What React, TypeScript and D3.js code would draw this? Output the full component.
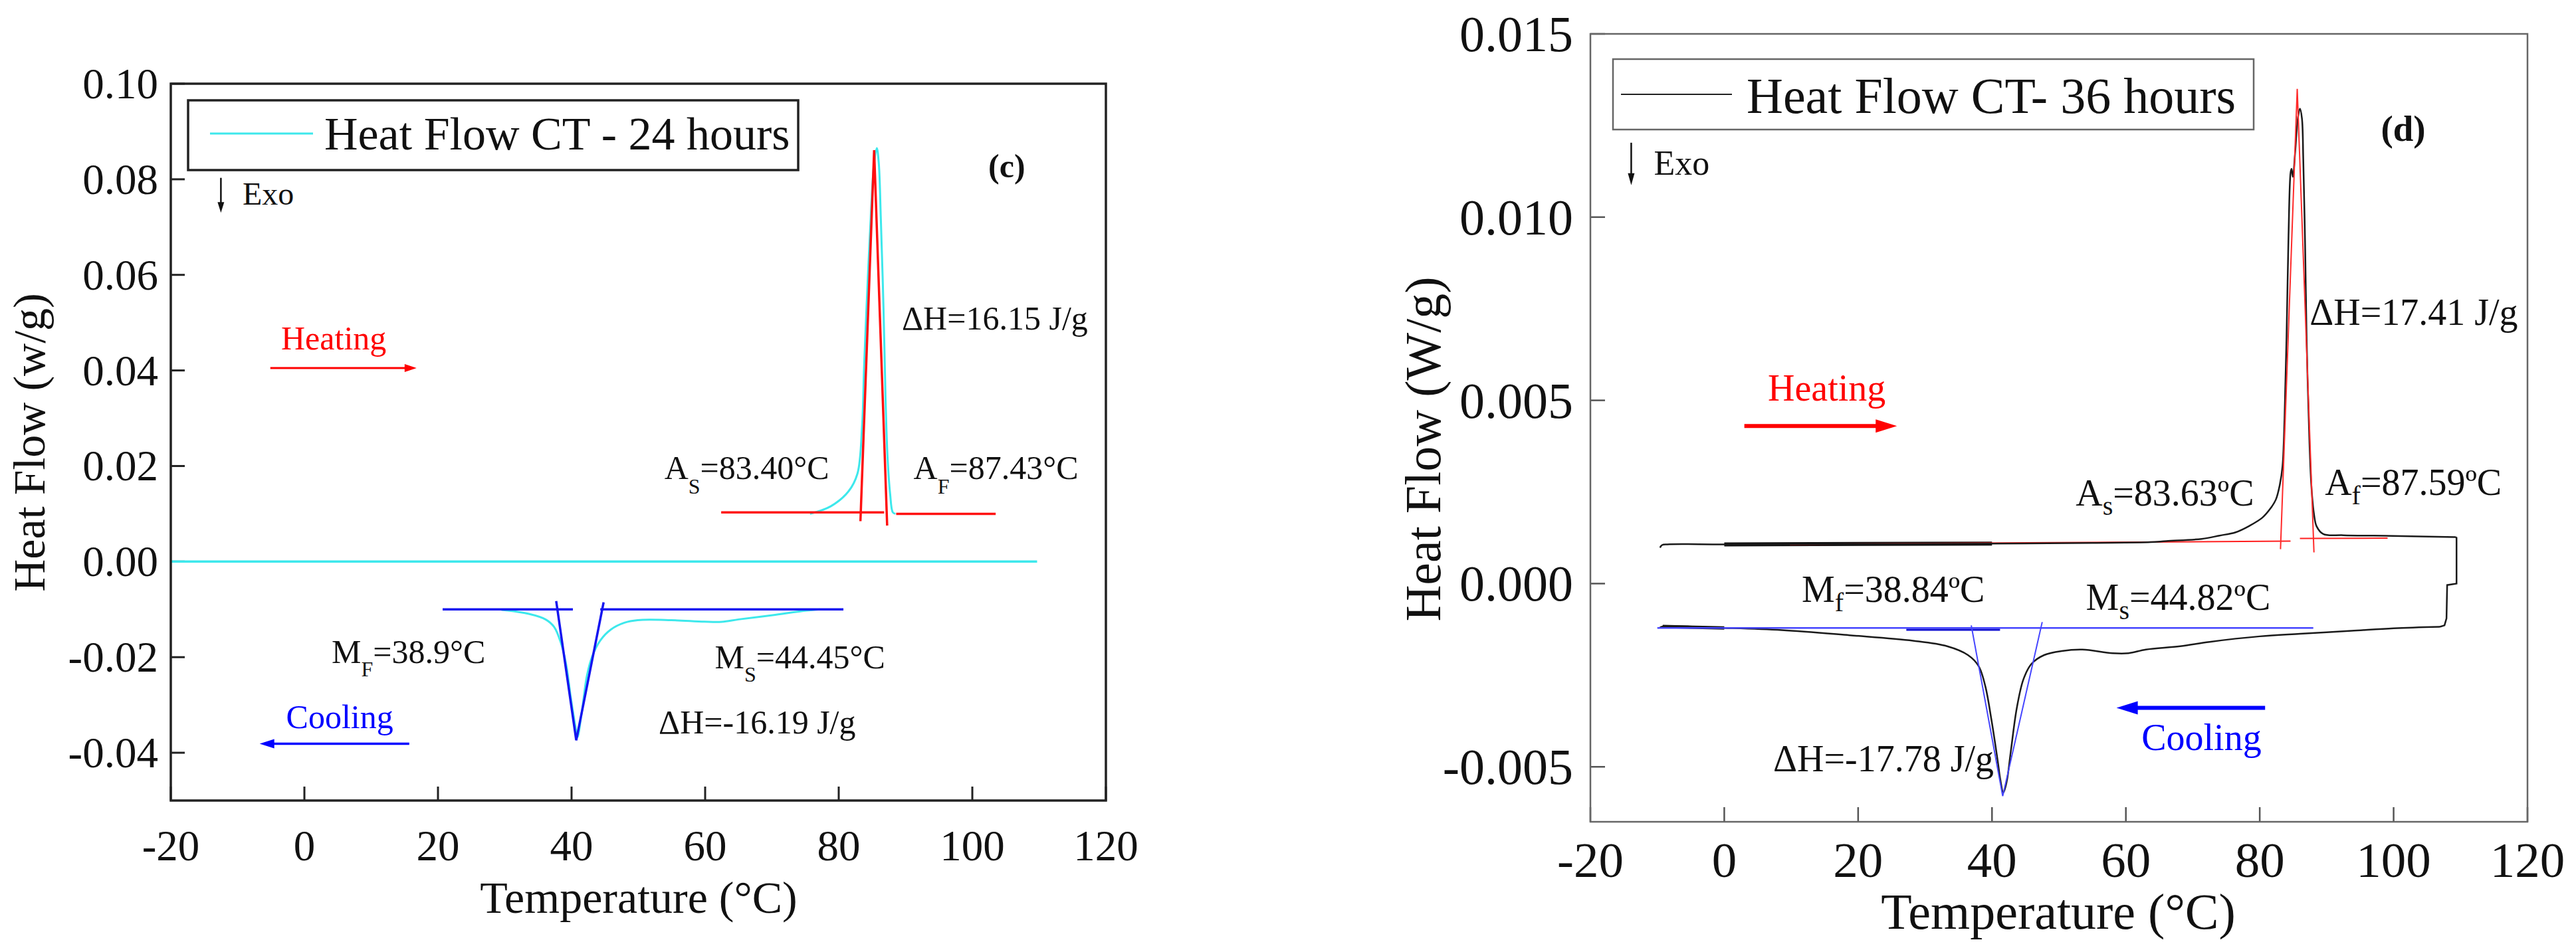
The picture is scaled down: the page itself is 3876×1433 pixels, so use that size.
import React from "react";
import * as d3 from "d3";

// ---------------- data ----------------
const xTicks = [-20, 0, 20, 40, 60, 80, 100, 120];
const xTickLabels = ["-20", "0", "20", "40", "60", "80", "100", "120"];
const yTicksC = [-0.04, -0.02, 0, 0.02, 0.04, 0.06, 0.08, 0.1];
const yTickLabelsC = ["-0.04", "-0.02", "0.00", "0.02", "0.04", "0.06", "0.08", "0.10"];
const yTicksD = [-0.005, 0, 0.005, 0.01, 0.015];
const yTickLabelsD = ["-0.005", "0.000", "0.005", "0.010", "0.015"];

// Panel (c): CT - 24 hours (cyan trace)
const baselineC: [number, number][] = [[-20, 0], [109.7, 0]];
const heatPeakC: [number, number][] = [
  [75.7, 0.01], [78.8, 0.01157], [81.45, 0.01467], [82.8, 0.0184], [83.5, 0.0284],
  [83.8, 0.0408], [84.36, 0.0594], [84.9, 0.075], [85.3, 0.0835], [85.7, 0.0865],
  [86.0, 0.0833], [86.3, 0.0719], [86.7, 0.0532], [87.0, 0.0346], [87.3, 0.0221],
  [87.7, 0.0141], [88.1, 0.0103], [88.5, 0.01],
];
const coolPeakC: [number, number][] = [
  [29.5, -0.0101], [33.6, -0.01094], [36.1, -0.0121], [37.4, -0.0137], [38.4, -0.017],
  [39.2, -0.0216], [39.9, -0.0286], [40.7, -0.0355], [40.9, -0.0367], [41.5, -0.0318],
  [42.3, -0.0239], [43.1, -0.0198], [44.3, -0.0165], [45.9, -0.0142], [47.9, -0.0128],
  [49.9, -0.01225], [54.9, -0.01225], [59.9, -0.01257], [62.5, -0.0126], [65.0, -0.0121],
  [70.1, -0.0112], [75.2, -0.01025], [77.2, -0.01],
];
const heatBaseC1: [number, number][] = [[62.4, 0.0103], [86.8, 0.0103]];
const heatBaseC2: [number, number][] = [[88.6, 0.01], [103.5, 0.01]];
const heatTangentC: [number, number][] = [[83.25, 0.00845], [85.3, 0.0861], [87.25, 0.00753]];
const coolBaseC1: [number, number][] = [[20.7, -0.01], [40.2, -0.01]];
const coolBaseC2: [number, number][] = [[44.3, -0.01], [80.7, -0.01]];
const coolTangentC: [number, number][] = [[37.7, -0.00826], [40.7, -0.0374], [44.8, -0.00853]];
const heatArrowC: [number, number][] = [[-5.1, 0.0405], [16.8, 0.0405]];
const coolArrowC: [number, number][] = [[15.7, -0.0381], [-6.7, -0.0381]];
const exoArrowC: [number, number][] = [[-12.5, 0.0803], [-12.5, 0.073]];

// Panel (d): CT - 36 hours (black trace)
const heatD: [number, number][] = [
  [-9.6, 0.00098], [-9.3, 0.00105], [-8.5, 0.00107], [0, 0.00107], [20, 0.00108],
  [40, 0.00109], [55, 0.00111], [63.7, 0.00113], [66, 0.00116], [71.3, 0.00122],
  [74, 0.00131], [76.4, 0.0014], [78.5, 0.00158], [80.4, 0.0018], [81.6, 0.00205],
  [82.4, 0.00229], [83.0, 0.0027], [83.4, 0.0032], [83.7, 0.0045], [84.0, 0.0067],
  [84.3, 0.0095], [84.6, 0.0112], [84.75, 0.01132], [84.95, 0.0111], [85.3, 0.0118],
  [85.7, 0.0127], [86.0, 0.01296], [86.3, 0.0127], [86.5, 0.0116], [86.8, 0.009],
  [87.0, 0.0067], [87.4, 0.004], [87.7, 0.0027], [88.1, 0.0019], [88.5, 0.00156],
  [89.5, 0.00135], [92.5, 0.00132], [100, 0.0013], [109.3, 0.00127],
];
const returnD: [number, number][] = [
  [109.3, 0.00127], [109.4, 0.00125], [109.4, 0.0], [108.0, -0.00004], [107.9, -0.00095],
  [107.6, -0.00114], [106.9, -0.00118],
];
const coolD: [number, number][] = [
  [106.9, -0.00118], [100, -0.00122], [93.7, -0.00129], [86, -0.00137], [80, -0.00144],
  [72.5, -0.00159], [68.1, -0.00171], [63, -0.0018], [60.4, -0.0019], [58, -0.0019],
  [53.5, -0.0018], [50.4, -0.00184], [47.8, -0.00195], [45.9, -0.00219], [44.7, -0.00261],
  [43.7, -0.0034], [42.8, -0.00459], [42.2, -0.0054], [41.7, -0.0057], [41.2, -0.0053],
  [40.9, -0.0049], [39.9, -0.0037], [39.0, -0.0028], [38.0, -0.00225], [36.4, -0.00195],
  [33.3, -0.00171], [28.2, -0.00156], [18.7, -0.00141], [8.6, -0.00127], [0, -0.00121],
  [-9.2, -0.00117], [-9.6, -0.0012],
];
// temperature spans where the trace is drawn heavier (overlapping recorded points)
const denseHeatSpanD: [number, number] = [0, 52];
const denseCoolSpanD: [number, number] = [-9.2, 0];
const heatBaseD1: [number, number][] = [[9.8, 0.00107], [84.6, 0.00116]];
const heatBaseD2: [number, number][] = [[86.0, 0.00123], [99.1, 0.00124]];
const heatTangentD: [number, number][] = [[83.1, 0.00094], [85.6, 0.0135], [88.1, 0.00085]];
const coolBaseD1: [number, number][] = [[-10.0, -0.00121], [88, -0.00121]];
const coolBaseD2: [number, number][] = [[27.2, -0.00126], [41.2, -0.00126]];
const coolTangentD: [number, number][] = [[36.9, -0.00114], [41.6, -0.0058], [47.5, -0.00105]];
const heatArrowD: [number, number][] = [[3.0, 0.0043], [25.8, 0.0043]];
const coolArrowD: [number, number][] = [[80.8, -0.00339], [58.6, -0.00339]];
const exoArrowD: [number, number][] = [[-13.9, 0.01203], [-13.9, 0.01087]];

// ---------------- layout ----------------
const FONT = "'Liberation Serif', 'Times New Roman', serif";
const W = 3876;
const H = 1433;

type Pt = [number, number];
type Ann = { t: number; v: number; main: string; sub?: string; rest?: string; color?: string; size: number; subSize?: number; subDy?: number; bold?: boolean };

const annC: Ann[] = [
  { t: 89.45, v: 0.04856, main: "ΔH=16.15 J/g", size: 50 },
  { t: 53.9, v: 0.01722, main: "A", sub: "S", rest: "=83.40°C", size: 50, subSize: 32, subDy: 22 },
  { t: 91.2, v: 0.01722, main: "A", sub: "F", rest: "=87.43°C", size: 50, subSize: 32, subDy: 22 },
  { t: 4.08, v: -0.0212, main: "M", sub: "F", rest: "=38.9°C", size: 50, subSize: 32, subDy: 20 },
  { t: 61.44, v: -0.02232, main: "M", sub: "S", rest: "=44.45°C", size: 50, subSize: 32, subDy: 20 },
  { t: 53.04, v: -0.03596, main: "ΔH=-16.19 J/g", size: 50 },
  { t: -3.48, v: 0.04437, main: "Heating", size: 50, color: "#ff0000" },
  { t: -2.73, v: -0.03485, main: "Cooling", size: 50, color: "#0000ff" },
  { t: -9.25, v: 0.07472, main: "Exo", size: 48 },
  { t: 102.4, v: 0.0804, main: "(c)", size: 50, bold: true },
];
const annD: Ann[] = [
  { t: 87.45, v: 0.007065, main: "ΔH=17.41 J/g", size: 56 },
  { t: 6.51, v: 0.005, main: "Heating", size: 56, color: "#ff0000" },
  { t: 52.5, v: 0.002138, main: "A", sub: "s", rest: "=83.63ºC", size: 56, subSize: 40, subDy: 14 },
  { t: 89.73, v: 0.002428, main: "A", sub: "f", rest: "=87.59ºC", size: 56, subSize: 40, subDy: 14 },
  { t: 11.58, v: -0.000507, main: "M", sub: "f", rest: "=38.84ºC", size: 56, subSize: 40, subDy: 14 },
  { t: 54.03, v: -0.000725, main: "M", sub: "s", rest: "=44.82ºC", size: 56, subSize: 40, subDy: 14 },
  { t: 7.31, v: -0.005121, main: "ΔH=-17.78 J/g", size: 56 },
  { t: 62.33, v: -0.004538, main: "Cooling", size: 56, color: "#0000ff" },
  { t: -10.52, v: 0.01116, main: "Exo", size: 52 },
  { t: 98.1, v: 0.012083, main: "(d)", size: 55, bold: true },
];

function Arrow({ p0, p1, color, width, headLen, headHalf }: { p0: Pt; p1: Pt; color: string; width: number; headLen: number; headHalf: number }) {
  const dx = p1[0] - p0[0];
  const dy = p1[1] - p0[1];
  const len = Math.hypot(dx, dy) || 1;
  const ux = dx / len, uy = dy / len;
  const bx = p1[0] - ux * headLen, by = p1[1] - uy * headLen;
  const pts = [
    [p1[0], p1[1]],
    [bx - uy * headHalf, by + ux * headHalf],
    [bx + uy * headHalf, by - ux * headHalf],
  ];
  return (
    <g>
      <line x1={p0[0]} y1={p0[1]} x2={bx + ux * 2} y2={by + uy * 2} stroke={color} strokeWidth={width} />
      <polygon points={pts.map((p) => p.join(",")).join(" ")} fill={color} />
    </g>
  );
}

function Annotation({ a, x, y }: { a: Ann; x: (t: number) => number; y: (v: number) => number }) {
  return (
    <text x={x(a.t)} y={y(a.v)} fontSize={a.size} fill={a.color || "#111"} fontWeight={a.bold ? "bold" : "normal"} fontFamily={FONT}>
      {a.main}
      {a.sub ? (
        <tspan fontSize={a.subSize} dy={a.subDy}>{a.sub}</tspan>
      ) : null}
      {a.rest ? <tspan dy={-(a.subDy || 0)}>{a.rest}</tspan> : null}
    </text>
  );
}

export default function App() {
  const fC = { x0: 257, x1: 1664, y0: 126, y1: 1205 };
  const xC = d3.scaleLinear().domain([-20, 120]).range([fC.x0, fC.x1]);
  const yC = d3.scaleLinear().domain([-0.05, 0.1]).range([fC.y1, fC.y0]);
  const fD = { x0: 2393, x1: 3803, y0: 51, y1: 1237 };
  const xD = d3.scaleLinear().domain([-20, 120]).range([fD.x0, fD.x1]);
  const yD = d3.scaleLinear().domain([-0.0065, 0.015]).range([fD.y1, fD.y0]);

  const lineC = d3.line<Pt>().x((d) => xC(d[0])).y((d) => yC(d[1]));
  const smoothC = d3.line<Pt>().x((d) => xC(d[0])).y((d) => yC(d[1])).curve(d3.curveCatmullRom.alpha(0.5));
  const lineD = d3.line<Pt>().x((d) => xD(d[0])).y((d) => yD(d[1]));
  const smoothD = d3.line<Pt>().x((d) => xD(d[0])).y((d) => yD(d[1])).curve(d3.curveCatmullRom.alpha(0.5));

  const cyan = "#3de8ec";
  const redC = "#ff1010";
  const blueC = "#1414f0";

  const toPx = (pts: Pt[], x: (t: number) => number, y: (v: number) => number): Pt[] => pts.map((p) => [x(p[0]), y(p[1])]);
  const within = (pts: Pt[], span: [number, number]) => pts.filter((p) => p[0] >= span[0] && p[0] <= span[1]);

  return (
    <svg width={W} height={H} viewBox={`0 0 ${W} ${H}`} style={{ position: "absolute", left: 0, top: 0, background: "#fff" }} fontFamily={FONT}>
      <rect x={0} y={0} width={W} height={H} fill="#fff" />

      {/* ================= Panel (c) ================= */}
      <g>
        {xTicks.map((t) => (
          <line key={"xc" + t} x1={xC(t)} x2={xC(t)} y1={fC.y1} y2={fC.y1 - 21} stroke="#222" strokeWidth={3} />
        ))}
        {yTicksC.map((v) => (
          <line key={"yc" + v} x1={fC.x0} x2={fC.x0 + 21} y1={yC(v)} y2={yC(v)} stroke="#222" strokeWidth={3} />
        ))}
        {xTicks.map((t, i) => (
          <text key={"xlc" + t} x={xC(t)} y={1295} fontSize={65} textAnchor="middle" fill="#111">{xTickLabels[i]}</text>
        ))}
        {yTicksC.map((v, i) => (
          <text key={"ylc" + v} x={238} y={yC(v) + 22} fontSize={65} textAnchor="end" fill="#111">{yTickLabelsC[i]}</text>
        ))}
        <text x={961} y={1374} fontSize={68} textAnchor="middle" fill="#111">Temperature (°C)</text>
        <text transform={`translate(67,666) rotate(-90)`} fontSize={68} textAnchor="middle" fill="#111">Heat Flow (w/g)</text>

        <path d={lineC(baselineC) || ""} fill="none" stroke={cyan} strokeWidth={3.5} />
        <path d={smoothC(heatPeakC) || ""} fill="none" stroke={cyan} strokeWidth={3} />
        <path d={smoothC(coolPeakC) || ""} fill="none" stroke={cyan} strokeWidth={3} />
        <path d={lineC(heatBaseC1) || ""} fill="none" stroke={redC} strokeWidth={3.5} />
        <path d={lineC(heatBaseC2) || ""} fill="none" stroke={redC} strokeWidth={3.5} />
        <path d={lineC(heatTangentC) || ""} fill="none" stroke={redC} strokeWidth={3.5} strokeLinejoin="miter" />
        <path d={lineC(coolBaseC1) || ""} fill="none" stroke={blueC} strokeWidth={3.5} />
        <path d={lineC(coolBaseC2) || ""} fill="none" stroke={blueC} strokeWidth={3.5} />
        <path d={lineC(coolTangentC) || ""} fill="none" stroke={blueC} strokeWidth={3.5} />

        {(() => {
          const h = toPx(heatArrowC, xC, yC);
          const c = toPx(coolArrowC, xC, yC);
          const e = toPx(exoArrowC, xC, yC);
          return (
            <g>
              <Arrow p0={h[0]} p1={h[1]} color="#ff0000" width={3} headLen={18} headHalf={6} />
              <Arrow p0={c[0]} p1={c[1]} color="#0000ff" width={3.5} headLen={22} headHalf={7} />
              <Arrow p0={e[0]} p1={e[1]} color="#111" width={2.5} headLen={16} headHalf={5} />
            </g>
          );
        })()}

        {annC.map((a, i) => (
          <Annotation key={"ac" + i} a={a} x={xC} y={yC} />
        ))}

        <rect x={283} y={151} width={918} height={105} fill="#fff" stroke="#222" strokeWidth={3.5} />
        <line x1={316} x2={471} y1={201} y2={201} stroke={cyan} strokeWidth={3} />
        <text x={488} y={225} fontSize={70} fill="#111">Heat Flow CT - 24 hours</text>

        <rect x={fC.x0} y={fC.y0} width={fC.x1 - fC.x0} height={fC.y1 - fC.y0} fill="none" stroke="#222" strokeWidth={3.5} />
      </g>

      {/* ================= Panel (d) ================= */}
      <g>
        {xTicks.map((t) => (
          <line key={"xd" + t} x1={xD(t)} x2={xD(t)} y1={fD.y1} y2={fD.y1 - 22} stroke="#555" strokeWidth={2.5} />
        ))}
        {yTicksD.map((v) => (
          <line key={"yd" + v} x1={fD.x0} x2={fD.x0 + 22} y1={yD(v)} y2={yD(v)} stroke="#555" strokeWidth={2.5} />
        ))}
        {xTicks.map((t, i) => (
          <text key={"xld" + t} x={xD(t)} y={1320} fontSize={75} textAnchor="middle" fill="#111">{xTickLabels[i]}</text>
        ))}
        {yTicksD.map((v, i) => (
          <text key={"yld" + v} x={2367} y={yD(v) + 26} fontSize={76} textAnchor="end" fill="#111">{yTickLabelsD[i]}</text>
        ))}
        <text x={3097} y={1398} fontSize={76} textAnchor="middle" fill="#111">Temperature (°C)</text>
        <text transform={`translate(2167,676) rotate(-90)`} fontSize={76} textAnchor="middle" fill="#111">Heat Flow (W/g)</text>

        <path d={lineD(within(heatD, denseHeatSpanD)) || ""} fill="none" stroke="#111" strokeWidth={6} />
        <path d={lineD(within(coolD, denseCoolSpanD)) || ""} fill="none" stroke="#111" strokeWidth={5} />
        <path d={lineD(heatBaseD1) || ""} fill="none" stroke="#ff2020" strokeWidth={2} />
        <path d={lineD(heatBaseD2) || ""} fill="none" stroke="#ff2020" strokeWidth={2} />
        <path d={smoothD(heatD) || ""} fill="none" stroke="#1a1a1a" strokeWidth={2.5} />
        <path d={lineD(returnD) || ""} fill="none" stroke="#1a1a1a" strokeWidth={2.5} />
        <path d={smoothD(coolD) || ""} fill="none" stroke="#1a1a1a" strokeWidth={2.5} />
        <path d={lineD(heatTangentD) || ""} fill="none" stroke="#ff2a2a" strokeWidth={2} />
        <path d={lineD(coolBaseD1) || ""} fill="none" stroke="#4444ff" strokeWidth={2.5} />
        <path d={lineD(coolBaseD2) || ""} fill="none" stroke="#1010d0" strokeWidth={3} />
        <path d={lineD(coolTangentD) || ""} fill="none" stroke="#4444ff" strokeWidth={2} />

        {(() => {
          const h = toPx(heatArrowD, xD, yD);
          const c = toPx(coolArrowD, xD, yD);
          const e = toPx(exoArrowD, xD, yD);
          return (
            <g>
              <Arrow p0={h[0]} p1={h[1]} color="#ff0000" width={6} headLen={32} headHalf={10} />
              <Arrow p0={c[0]} p1={c[1]} color="#0000ff" width={6} headLen={32} headHalf={10} />
              <Arrow p0={e[0]} p1={e[1]} color="#111" width={2.5} headLen={18} headHalf={5} />
            </g>
          );
        })()}

        {annD.map((a, i) => (
          <Annotation key={"ad" + i} a={a} x={xD} y={yD} />
        ))}

        <rect x={2427} y={89} width={964} height={106} fill="#fff" stroke="#666" strokeWidth={2.5} />
        <line x1={2439} x2={2606} y1={142} y2={142} stroke="#222" strokeWidth={2} />
        <text x={2628} y={170} fontSize={76} fill="#111">Heat Flow CT- 36 hours</text>

        <rect x={fD.x0} y={fD.y0} width={fD.x1 - fD.x0} height={fD.y1 - fD.y0} fill="none" stroke="#666" strokeWidth={2.5} />
      </g>
    </svg>
  );
}
